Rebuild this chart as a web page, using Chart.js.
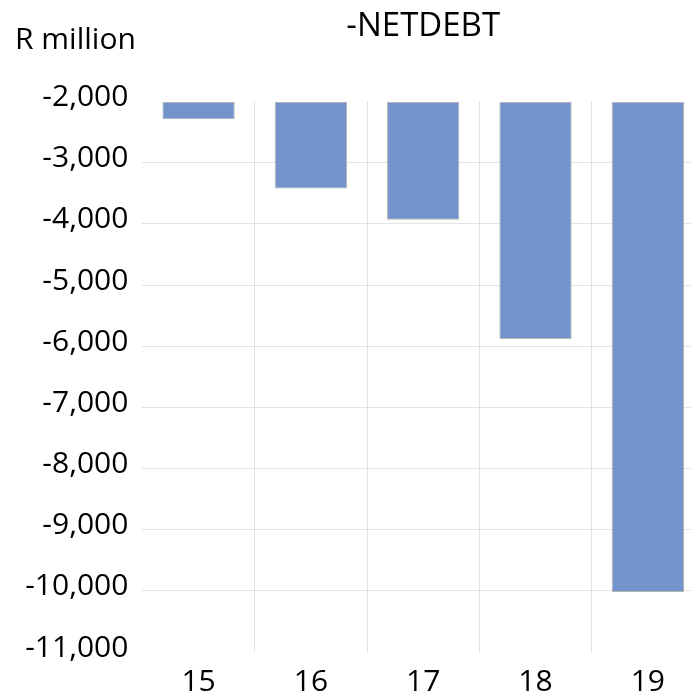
<!DOCTYPE html>
<html>
<head>
<meta charset="utf-8">
<title>-NETDEBT</title>
<script src="https://cdn.jsdelivr.net/npm/chart.js@4.4.1/dist/chart.umd.min.js"></script>
<style>
    html, body { margin: 0; padding: 0; background: #fff; overflow: hidden; }
    #wrap { width: 691px; height: 695px; overflow: hidden; }
    canvas { display: block; }
</style>
</head>
<body>
<div id="wrap">
    <canvas id="debtChart" width="712" height="695"></canvas>
</div>
<script>
// Chart data
const years = ['15', '16', '17', '18', '19'];
const netDebt = [-2290, -3420, -3930, -5880, -10020];
const axisMin = -11000;
const axisMax = -2000;
const axisStep = 1000;

const chartTitle = '-NETDEBT';
const unitLabel = 'R million';

const FONT = '"Open Sans", "DejaVu Sans", sans-serif';

// Title and unit label drawn above the plot
const headerPlugin = {
    id: 'header',
    afterDraw(chart) {
        const ctx = chart.ctx;
        const area = chart.chartArea;
        ctx.save();
        ctx.fillStyle = '#000';
        ctx.textBaseline = 'alphabetic';

        ctx.font = '33px ' + FONT;
        ctx.textAlign = 'center';
        ctx.fillText(chartTitle, (area.left + area.right) / 2, 35.5);

        ctx.font = '30px ' + FONT;
        ctx.textAlign = 'left';
        ctx.fillText(unitLabel, 15, 48.5);
        ctx.restore();
    }
};

new Chart(document.getElementById('debtChart'), {
    type: 'bar',
    data: {
        labels: years,
        datasets: [{
            data: netDebt,
            base: axisMax,
            backgroundColor: '#7293cb',
            borderColor: '#b4b4b4',
            borderWidth: 1,
            borderSkipped: false,
            barPercentage: 0.644,
            categoryPercentage: 1
        }]
    },
    options: {
        responsive: false,
        animation: false,
        devicePixelRatio: 1,
        layout: {
            padding: { top: 101.6, right: 8, bottom: 0, left: 0 }
        },
        plugins: {
            legend: { display: false },
            title: { display: false },
            tooltip: { enabled: false }
        },
        scales: {
            x: {
                offset: true,
                border: { display: false },
                grid: {
                    offset: true,
                    drawTicks: false,
                    lineWidth: 1,
                    color: ctx => ctx.index === 0 ? 'rgba(0,0,0,0)' : '#e2e2e2'
                },
                ticks: {
                    color: '#000',
                    padding: 12,
                    font: { family: FONT, size: 30 }
                },
                afterFit: scale => { scale.height = 43; }
            },
            y: {
                min: axisMin,
                max: axisMax,
                border: { display: false },
                grid: {
                    drawTicks: false,
                    lineWidth: 1,
                    color: ctx => (ctx.tick && (ctx.tick.value === axisMin || ctx.tick.value === axisMax))
                        ? 'rgba(0,0,0,0)' : '#e2e2e2'
                },
                ticks: {
                    stepSize: axisStep,
                    color: '#000',
                    padding: 14,
                    labelOffset: -4,
                    font: { family: FONT, size: 30 },
                    callback: v => v.toLocaleString('en-US')
                },
                afterFit: scale => { scale.width = 142.4; }
            }
        }
    },
    plugins: [headerPlugin]
});
</script>
</body>
</html>
